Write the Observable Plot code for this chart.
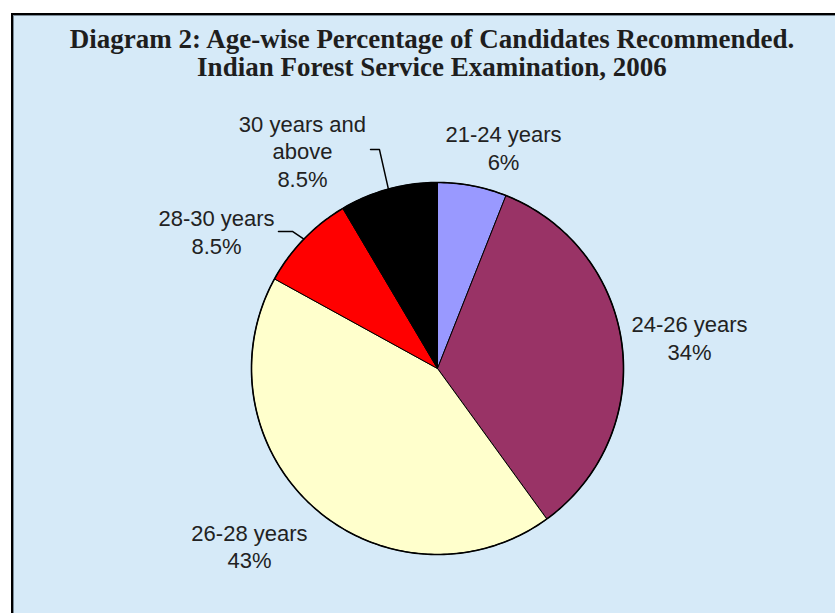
<!DOCTYPE html>
<html>
<head>
<meta charset="utf-8">
<script src="https://cdn.jsdelivr.net/npm/d3@7"></script>
<script src="https://cdn.jsdelivr.net/npm/@observablehq/plot@0.6"></script>
<style>
  html, body { margin: 0; padding: 0; background: #ffffff; }
  #wrap { position: relative; width: 835px; height: 613px; overflow: hidden; }
  #panel { position: absolute; left: 11px; top: 13px; width: 840px; height: 620px;
           background: #d6eaf8; border-left: 2px solid #000; border-top: 2px solid #000;
           box-shadow: inset 1px 1px 0 #7a8a96; }
  .title { position: absolute; left: 0; width: 864px; text-align: center;
           font-family: "Liberation Serif", "Times New Roman", serif; font-weight: bold;
           font-size: 27px; line-height: 27px; height: 27px; color: #1e1e1e; white-space: nowrap; }
  #t1 { top: 26px; }
  #t2 { top: 54px; }
  #chart { position: absolute; left: 0; top: 0; }
</style>
</head>
<body>
<div id="wrap">
  <div id="panel"></div>
  <div class="title" id="t1">Diagram 2: Age-wise Percentage of Candidates Recommended.</div>
  <div class="title" id="t2">Indian Forest Service Examination, 2006</div>
  <div id="chart"></div>
</div>
<script>
// ---- data ----
const categories = ["21-24 years", "24-26 years", "26-28 years", "28-30 years", "30 years and above"];
const labelTexts = ["21-24 years\n6%", "24-26 years\n34%", "26-28 years\n43%", "28-30 years\n8.5%", "30 years and\nabove\n8.5%"];
const percentages = [6, 34, 43, 8.5, 8.5];
const sliceColors = ["#9999ff", "#993366", "#ffffcc", "#ff0000", "#000000"];

// ---- layout (unit-radius coordinates, not data) ----
const W = 835, H = 613, CX = 437, CY = 368, R = 186;
const labelPos = [[0.355, 1.191], [1.355, 0.169], [-1.011, -0.952], [-1.188, 0.737], [-0.726, 1.172]];
const leaderElbows = { 3: [[-0.855, 0.737], [-0.780, 0.737]], 4: [[-0.360, 1.177], [-0.312, 1.177]] };

// ---- geometry ----
const total = d3.sum(percentages);
const wedges = [];
const labels = [];
const leaders = [];
let acc = 0;
percentages.forEach((v, i) => {
  const a0 = acc / total * 2 * Math.PI;
  acc += v;
  const a1 = acc / total * 2 * Math.PI;
  const n = Math.max(2, Math.ceil((a1 - a0) / (Math.PI / 180)));
  wedges.push({cat: categories[i], color: sliceColors[i], x: 0, y: 0});
  for (let k = 0; k <= n; k++) {
    const a = a0 + (a1 - a0) * k / n;
    wedges.push({cat: categories[i], color: sliceColors[i], x: Math.sin(a), y: Math.cos(a)});
  }
  wedges.push({cat: categories[i], color: sliceColors[i], x: 0, y: 0});
  labels.push({text: labelTexts[i], x: labelPos[i][0], y: labelPos[i][1]});
  if (leaderElbows[i]) {
    const am = (a0 + a1) / 2;
    leaderElbows[i].forEach(p => leaders.push({cat: categories[i], x: p[0], y: p[1]}));
    leaders.push({cat: categories[i], x: Math.sin(am), y: Math.cos(am)});
  }
});
const rim = d3.range(0, 361).map(d => ({x: Math.sin(d * Math.PI / 180), y: Math.cos(d * Math.PI / 180)}));

const chart = Plot.plot({
  width: W, height: H,
  margin: 0,
  style: {background: "transparent", overflow: "visible"},
  x: {domain: [-CX / R, (W - CX) / R], range: [0, W], axis: null},
  y: {domain: [-(H - CY) / R, CY / R], range: [H, 0], axis: null},
  color: {type: "identity"},
  marks: [
    Plot.line(wedges, {x: "x", y: "y", z: "cat", fill: "color", stroke: "#000", strokeWidth: 1, strokeLinejoin: "round"}),
    Plot.line(rim, {x: "x", y: "y", stroke: "#000", strokeWidth: 1.6, fill: "none"}),
    Plot.line(leaders, {x: "x", y: "y", z: "cat", stroke: "#000", strokeWidth: 1.5}),
    Plot.text(labels, {x: "x", y: "y", text: "text", fontSize: 22, lineHeight: 1.26,
      fontFamily: "Liberation Sans, Arial, sans-serif", fill: "#222", textAnchor: "middle", lineAnchor: "middle"})
  ]
});
document.getElementById("chart").appendChild(chart);
</script>
</body>
</html>
